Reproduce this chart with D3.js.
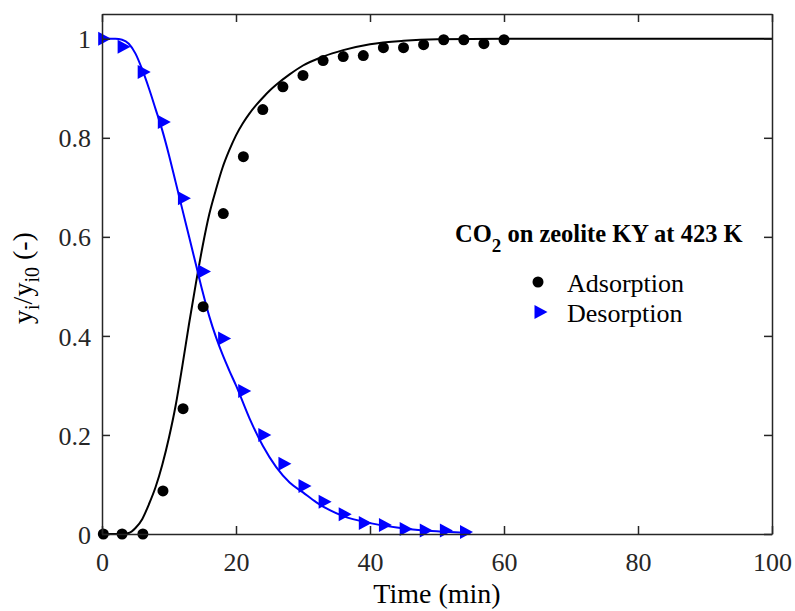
<!DOCTYPE html>
<html>
<head>
<meta charset="utf-8">
<script src="https://cdn.jsdelivr.net/npm/d3@7"></script>
<style>
  body { margin: 0; background: #fff; }
  text { font-family: "Liberation Serif", "Times New Roman", serif; }
</style>
</head>
<body>
<div id="chart"></div>
<script>
// Measured points (time in min, y/y0)
const adsTime = [0.2, 3, 6.1, 9.1, 12.1, 15.1, 18.1, 21.1, 24, 27, 30, 33, 36, 39, 42, 45, 48, 51, 54, 57, 60]
const adsValue = [0, 0, 0, 0.087, 0.253, 0.459, 0.647, 0.762, 0.857, 0.903, 0.926, 0.956, 0.964, 0.966, 0.982, 0.982, 0.988, 0.998, 0.998, 0.990, 0.998]

const desTime = [0.4, 3.3, 6.3, 9.3, 12.3, 15.3, 18.3, 21.3, 24.3, 27.3, 30.3, 33.3, 36.3, 39.3, 42.3, 45.4, 48.4, 51.4, 54.4]
const desValue = [1.0, 0.984, 0.933, 0.832, 0.678, 0.530, 0.395, 0.289, 0.200, 0.142, 0.097, 0.065, 0.040, 0.022, 0.018, 0.010, 0.007, 0.007, 0.004]

// Model curves
const adsCurveTime = [0, 3, 4, 5, 6, 7, 8, 9, 10, 11, 12, 13, 14, 15, 16, 17, 18, 19, 20, 21, 22, 23, 24, 25, 26, 28, 30, 33, 36, 40, 45, 50, 60, 100]
const adsCurveValue = [0, 0, 0.002, 0.012, 0.03, 0.06, 0.095, 0.14, 0.195, 0.26, 0.34, 0.425, 0.505, 0.58, 0.645, 0.695, 0.74, 0.775, 0.805, 0.829, 0.849, 0.866, 0.881, 0.895, 0.907, 0.928, 0.946, 0.964, 0.977, 0.989, 0.996, 0.999, 1, 1]

const desCurveTime = [0, 2, 3, 4, 5, 6, 7, 8, 9, 10, 11, 12, 13, 14, 15, 16, 17, 18, 19, 20, 22, 24, 26, 28, 30, 32, 34, 36, 40, 44, 48, 52, 55]
const desCurveValue = [1, 1, 0.998, 0.99, 0.97, 0.938, 0.9, 0.858, 0.815, 0.765, 0.71, 0.655, 0.6, 0.545, 0.49, 0.44, 0.398, 0.362, 0.33, 0.3, 0.234, 0.178, 0.135, 0.104, 0.084, 0.064, 0.048, 0.036, 0.022, 0.013, 0.007, 0.004, 0.002]

const xTicks = [0, 20, 40, 60, 80, 100]
const yTicks = [0, 0.2, 0.4, 0.6, 0.8, 1]
const legendTitle = { main: "CO", sub: "2", rest: " on zeolite KY at 423 K" }
const seriesNames = ["Adsorption", "Desorption"]

const W = 795, H = 611
const margin = { top: 14, right: 23, bottom: 77, left: 102 },
    width = W - margin.left - margin.right,
    height = H - margin.top - margin.bottom

const axisColor = "#262626"

const svg = d3.select("#chart").append("svg")
    .attr("width", W).attr("height", H)

const g = svg.append("g").attr("transform", `translate(${margin.left}, ${margin.top})`)

const x = d3.scaleLinear().domain([0, 100]).range([0, width])
const y = d3.scaleLinear().domain([0, 1.05]).range([height, 0])

// curves
const line = d3.line().curve(d3.curveMonotoneX).x(d => x(d[0])).y(d => y(d[1]))

g.append("path")
    .datum(adsCurveTime.map((t, i) => [t, adsCurveValue[i]]))
    .attr("fill", "none").attr("stroke", "#000").attr("stroke-width", 2)
    .attr("d", line)

g.append("path")
    .datum(desCurveTime.map((t, i) => [t, desCurveValue[i]]))
    .attr("fill", "none").attr("stroke", "#0000ff").attr("stroke-width", 2)
    .attr("d", line)

// markers
const tri = "M-6.5,-7L6.5,0L-6.5,7Z"

g.selectAll(".ads")
    .data(adsTime.map((t, i) => [t, adsValue[i]]))
    .join("circle")
    .attr("class", "ads")
    .attr("cx", d => x(d[0])).attr("cy", d => y(d[1]))
    .attr("r", 5.5).attr("fill", "#000")

g.selectAll(".des")
    .data(desTime.map((t, i) => [t, desValue[i]]))
    .join("path")
    .attr("class", "des")
    .attr("transform", d => `translate(${x(d[0])}, ${y(d[1])})`)
    .attr("d", tri).attr("fill", "#0000ff")

// axes box with inward ticks on all four sides
const bottomAxis = g.append("g").attr("transform", `translate(0, ${height})`)
    .call(d3.axisBottom(x).tickValues(xTicks).tickSizeInner(-8).tickSizeOuter(0).tickPadding(19))
const topAxis = g.append("g")
    .call(d3.axisTop(x).tickValues(xTicks).tickSizeInner(-8).tickSizeOuter(0).tickFormat(""))
const leftAxis = g.append("g")
    .call(d3.axisLeft(y).tickValues(yTicks).tickSizeInner(-8).tickSizeOuter(0).tickPadding(11).tickFormat(d3.format("~g")))
const rightAxis = g.append("g").attr("transform", `translate(${width}, 0)`)
    .call(d3.axisRight(y).tickValues(yTicks).tickSizeInner(-8).tickSizeOuter(0).tickFormat(""))

;[bottomAxis, topAxis, leftAxis, rightAxis].forEach(a => {
    a.select(".domain").attr("stroke", axisColor).attr("stroke-width", 1.5)
    a.selectAll(".tick line").attr("stroke", axisColor).attr("stroke-width", 1.5)
    a.selectAll(".tick text").attr("fill", axisColor)
        .style("font-family", "'Liberation Serif', serif").style("font-size", "26px")
})
leftAxis.selectAll(".tick text").attr("dy", "0.35em")

// axis labels
svg.append("text")
    .attr("x", margin.left + width / 2)
    .attr("y", 603)
    .attr("text-anchor", "middle")
    .attr("fill", "#000")
    .style("font-size", "28px")
    .text("Time (min)")

const yl = svg.append("text")
    .attr("transform", "translate(32, 278) rotate(-90)")
    .attr("text-anchor", "middle")
    .attr("fill", "#000")
    .style("font-size", "28px")
yl.append("tspan").text("y")
yl.append("tspan").attr("dy", 7).style("font-size", "20px").text("i")
yl.append("tspan").attr("dy", -7).text("/y")
yl.append("tspan").attr("dy", 7).style("font-size", "20px").text("i0")
yl.append("tspan").attr("dy", -7).text(" (-)")

// legend
const lt = svg.append("text")
    .attr("x", 455).attr("y", 242)
    .attr("fill", "#000")
    .style("font-size", "24.5px").style("font-weight", "bold")
lt.append("tspan").text(legendTitle.main)
lt.append("tspan").attr("dy", 10).style("font-size", "19px").text(legendTitle.sub)
lt.append("tspan").attr("dy", -10).text(legendTitle.rest)

const legend = svg.append("g")
legend.append("circle").attr("cx", 538).attr("cy", 282).attr("r", 5.5).attr("fill", "#000")
legend.append("path").attr("transform", "translate(541, 312)").attr("d", tri).attr("fill", "#0000ff")
seriesNames.forEach((name, i) => {
    legend.append("text")
        .attr("x", 567).attr("y", 292 + i * 30)
        .attr("fill", "#000")
        .style("font-size", "26px")
        .text(name)
})
</script>
</body>
</html>
